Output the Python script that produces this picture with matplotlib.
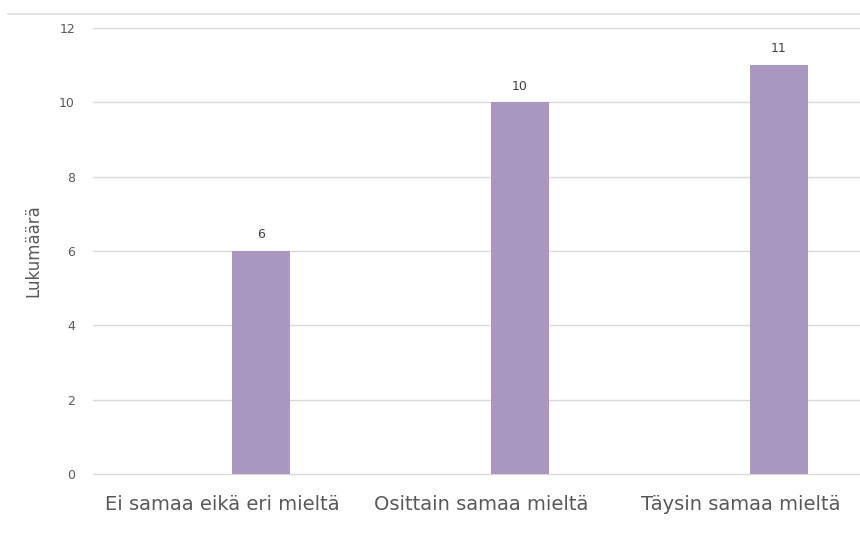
import matplotlib.pyplot as plt
from matplotlib.lines import Line2D
import numpy as np

categories = ["Ei samaa eikä eri mieltä", "Osittain samaa mieltä", "Täysin samaa mieltä"]
counts = [6, 10, 11]
y_ticks = [0, 2, 4, 6, 8, 10, 12]

BAR_COLOR = "#A898BF"
TEXT_COLOR = "#595959"
GRID_COLOR = "#D9D9D9"

plt.rcParams["font.family"] = ["DejaVu Sans"]

fig = plt.figure(figsize=(8.6, 5.33), dpi=100)
# plot area runs past the right edge, as in the cropped original
ax = fig.add_axes([93 / 860, 59 / 533, 777 / 860, 446 / 533])

x = np.arange(len(categories))
offset = 0.147  # bars sit right of the category centre (empty first series)
ax.bar(x + offset, counts, width=0.224, color=BAR_COLOR, zorder=3)

for xi, v in zip(x + offset, counts):
    ax.annotate(str(v), (xi, v), xytext=(0, 7), textcoords="offset points",
                ha="center", va="bottom", fontsize=9, color="#404040")

ax.set_xlim(-0.5, len(categories) - 0.5)
ax.set_ylim(0, 12)
ax.set_yticks(y_ticks)
ax.set_xticks(x)
ax.set_xticklabels(categories, fontsize=14, color=TEXT_COLOR)
ax.tick_params(axis="y", labelsize=9, colors=TEXT_COLOR, length=0, pad=13)
ax.tick_params(axis="x", length=0, pad=15)
ax.grid(axis="y", color=GRID_COLOR, linewidth=1, zorder=0)
for gl in ax.get_ygridlines():
    gl.set_clip_on(False)
for s in ax.spines.values():
    s.set_visible(False)

ax.set_ylabel("Lukumäärä", fontsize=12, color=TEXT_COLOR, labelpad=12)

# thin border line at the top of the original image
fig.add_artist(Line2D([8 / 860, 1.0], [519 / 533, 519 / 533], color="#DDDDDD",
                      linewidth=1.2, transform=fig.transFigure))

fig.savefig("out.png", dpi=100)
